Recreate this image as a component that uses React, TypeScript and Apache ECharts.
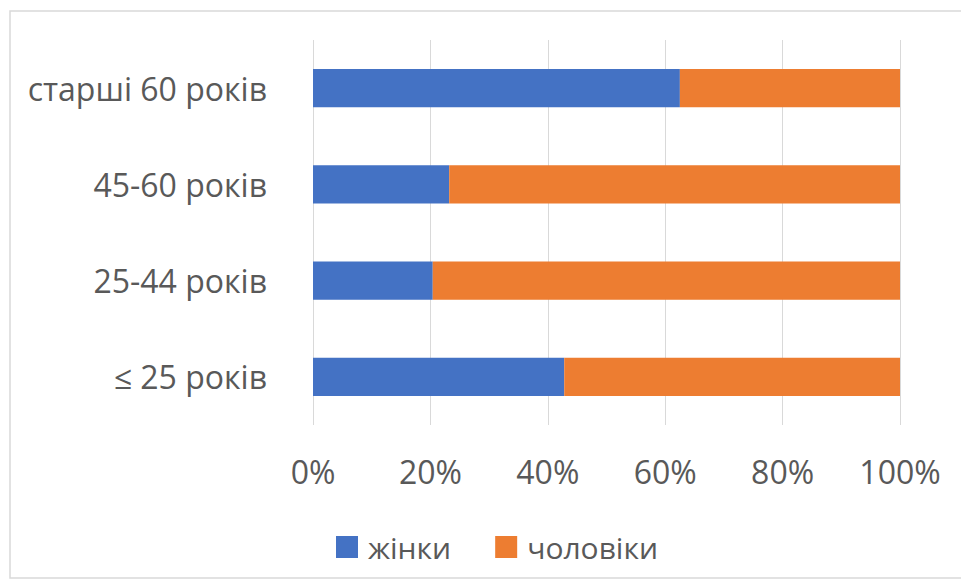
import React, { useEffect, useRef } from "react";
import * as echarts from "echarts";

const categories = ["≤ 25 років", "25-44 років", "45-60 років", "старші 60 років"];
const women = [42.8, 20.4, 23.2, 62.5];
const men = [57.2, 79.6, 76.8, 37.5];
const seriesNames = ["жінки", "чоловіки"];

const FONT = "'Open Sans', 'Noto Sans', sans-serif";

export default function App() {
  const ref = useRef<HTMLDivElement>(null);
  useEffect(() => {
    if (!ref.current) return;
    const chart = echarts.init(ref.current, undefined, { renderer: "svg" });
    chart.setOption({
      animation: false,
      backgroundColor: "#ffffff",
      textStyle: { fontFamily: FONT },
      graphic: [
        {
          type: "rect",
          shape: { x: 10, y: 11, width: 960, height: 567 },
          style: { fill: "none", stroke: "#D9D9D9", lineWidth: 1.5 },
          silent: true,
        },
      ],
      grid: { left: 313, right: 61, top: 40, bottom: 158, containLabel: false },
      xAxis: {
        type: "value",
        min: 0,
        max: 100,
        interval: 20,
        axisLine: { show: false },
        axisTick: { show: false },
        splitLine: { lineStyle: { color: "#D9D9D9", width: 1 } },
        axisLabel: {
          formatter: "{value}%",
          fontSize: 32,
          color: "#595959",
          margin: 30,
          fontFamily: FONT,
        },
      },
      yAxis: {
        type: "category",
        data: categories,
        axisLine: { show: false },
        axisTick: { show: false },
        axisLabel: { fontSize: 32, color: "#595959", margin: 46, fontFamily: FONT },
      },
      legend: {
        top: 527,
        left: 331,
        itemWidth: 22,
        itemHeight: 22,
        itemGap: 44,
        icon: "rect",
        textStyle: { fontSize: 30, color: "#595959", fontFamily: FONT, padding: [0, 0, 0, 5] },
        data: seriesNames,
      },
      series: [
        {
          name: seriesNames[0],
          type: "bar",
          stack: "total",
          barWidth: "39.5%",
          itemStyle: { color: "#4472C4" },
          data: women,
        },
        {
          name: seriesNames[1],
          type: "bar",
          stack: "total",
          barWidth: "39.5%",
          itemStyle: { color: "#ED7D31" },
          data: men,
        },
      ],
    });
    return () => chart.dispose();
  }, []);
  return (
    <div
      ref={ref}
      style={{ position: "fixed", left: 0, top: 0, width: 961, height: 583, background: "#fff" }}
    />
  );
}
